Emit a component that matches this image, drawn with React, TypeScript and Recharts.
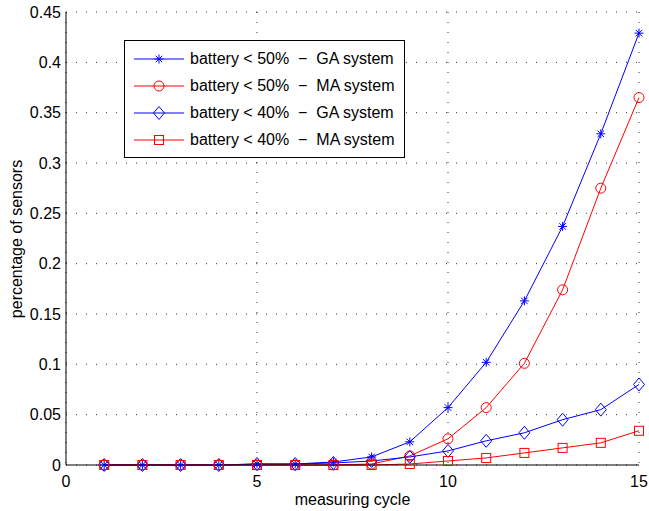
import React from 'react';
import { LineChart, Line, XAxis, YAxis, CartesianGrid, Legend } from 'recharts';

// measuring cycles on the x axis
const cycles = [1, 2, 3, 4, 5, 6, 7, 8, 9, 10, 11, 12, 13, 14, 15];

// share of sensors below a battery level, per system
const gaBelow50 = [0, 0, 0, 0, 0.001, 0.001, 0.003, 0.008, 0.023, 0.057, 0.102, 0.163, 0.237, 0.329, 0.429];
const maBelow50 = [0, 0, 0, 0, 0, 0, 0, 0.001, 0.009, 0.026, 0.057, 0.101, 0.174, 0.275, 0.365];
const gaBelow40 = [0, 0, 0, 0, 0.001, 0.001, 0.002, 0.004, 0.008, 0.014, 0.024, 0.032, 0.045, 0.055, 0.08];
const maBelow40 = [0, 0, 0, 0, 0, 0, 0, 0, 0.001, 0.004, 0.007, 0.012, 0.017, 0.022, 0.034];

const xTicks = [0, 5, 10, 15];
const yTicks = [0, 0.05, 0.1, 0.15, 0.2, 0.25, 0.3, 0.35, 0.4, 0.45];

const seriesLabels = [
  'battery < 50%  \u2212  GA system',
  'battery < 50%  \u2212  MA system',
  'battery < 40%  \u2212  GA system',
  'battery < 40%  \u2212  MA system',
];

const BLUE = '#0000ff';
const RED = '#ff0000';
const FONT = '"Liberation Sans", Arial, Helvetica, sans-serif';

const data = cycles.map((c, i) => ({
  cycle: c,
  ga50: gaBelow50[i],
  ma50: maBelow50[i],
  ga40: gaBelow40[i],
  ma40: maBelow40[i],
}));

type MarkerProps = { cx?: number; cy?: number; color: string };

const Star = ({ cx = 0, cy = 0, color }: MarkerProps) => {
  const r = 4.5;
  const d = r * 0.72;
  return (
    <g stroke={color} strokeWidth={1}>
      <line x1={cx - r} y1={cy} x2={cx + r} y2={cy} />
      <line x1={cx} y1={cy - r} x2={cx} y2={cy + r} />
      <line x1={cx - d} y1={cy - d} x2={cx + d} y2={cy + d} />
      <line x1={cx - d} y1={cy + d} x2={cx + d} y2={cy - d} />
    </g>
  );
};

const Circle = ({ cx = 0, cy = 0, color }: MarkerProps) => (
  <circle cx={cx} cy={cy} r={5} fill="none" stroke={color} strokeWidth={1} />
);

const Diamond = ({ cx = 0, cy = 0, color }: MarkerProps) => (
  <polygon
    points={`${cx},${cy - 6.5} ${cx + 5.5},${cy} ${cx},${cy + 6.5} ${cx - 5.5},${cy}`}
    fill="none"
    stroke={color}
    strokeWidth={1}
  />
);

const Square = ({ cx = 0, cy = 0, color }: MarkerProps) => (
  <rect x={cx - 4.5} y={cy - 4.5} width={9} height={9} fill="none" stroke={color} strokeWidth={1} />
);

const markers = [Star, Circle, Diamond, Square];
const colors = [BLUE, RED, BLUE, RED];
const keys = ['ga50', 'ma50', 'ga40', 'ma40'];

const dotFor = (idx: number) => (props: any) => {
  const M = markers[idx];
  return <M key={`${keys[idx]}-${props.index}`} cx={props.cx} cy={props.cy} color={colors[idx]} />;
};

const LegendBox = () => (
  <div
    style={{
      border: '1px solid #000',
      background: '#fff',
      padding: '4px 9px 4px 9px',
      fontFamily: FONT,
      fontSize: 16,
      color: '#000',
    }}
  >
    {seriesLabels.map((label, i) => {
      const M = markers[i];
      return (
        <div key={label} style={{ display: 'flex', alignItems: 'center', height: 27 }}>
          <svg width={50} height={16} style={{ marginRight: 6 }}>
            <line x1={0} y1={8} x2={50} y2={8} stroke={colors[i]} strokeWidth={1} />
            <M cx={25} cy={8} color={colors[i]} />
          </svg>
          <span style={{ whiteSpace: 'pre' }}>{label}</span>
        </div>
      );
    })}
  </div>
);

const fmt = (v: number) => String(Number(v.toFixed(2)));
const blank = () => '';

export default function App() {
  return (
    <div style={{ position: 'absolute', left: 0, top: 0, background: '#fff' }}>
      <LineChart width={649} height={511} data={data} margin={{ top: 12, right: 10, left: 0, bottom: 0 }}>
        <CartesianGrid
          horizontalValues={yTicks}
          verticalValues={xTicks}
          stroke="#000"
          strokeDasharray="1 9"
          strokeOpacity={0.8}
        />
        <XAxis
          dataKey="cycle"
          type="number"
          domain={[0, 15]}
          ticks={xTicks}
          height={46}
          axisLine={{ stroke: '#000' }}
          tickLine={false}
          tickSize={4}
          tickMargin={7}
          tick={{ fill: '#000', fontSize: 16, fontFamily: FONT }}
          label={{ value: 'measuring cycle', position: 'insideBottom', offset: 6, fill: '#000', fontSize: 16, fontFamily: FONT }}
        />
        <XAxis
          xAxisId="bottomTicks"
          dataKey="cycle"
          type="number"
          domain={[0, 15]}
          ticks={xTicks}
          mirror
          height={0}
          axisLine={false}
          tickLine={{ stroke: '#000' }}
          tickSize={5}
          tickFormatter={blank}
        />
        <XAxis
          xAxisId="top"
          orientation="top"
          dataKey="cycle"
          type="number"
          domain={[0, 15]}
          ticks={xTicks}
          mirror
          height={0}
          axisLine={{ stroke: '#000' }}
          tickLine={{ stroke: '#000' }}
          tickSize={5}
          tickFormatter={blank}
        />
        <YAxis
          type="number"
          domain={[0, 0.45]}
          ticks={yTicks}
          width={66}
          axisLine={{ stroke: '#000' }}
          tickLine={false}
          tickSize={2}
          tickMargin={3}
          tickFormatter={fmt}
          tick={{ fill: '#000', fontSize: 16, fontFamily: FONT }}
          label={{
            content: () => (
              <text
                x={22}
                y={239}
                transform="rotate(-90 22 239)"
                textAnchor="middle"
                fill="#000"
                fontSize={16}
                fontFamily={FONT}
              >
                percentage of sensors
              </text>
            ),
          }}
        />
        <YAxis
          yAxisId="leftTicks"
          type="number"
          domain={[0, 0.45]}
          ticks={yTicks}
          mirror
          width={0}
          axisLine={false}
          tickLine={{ stroke: '#000' }}
          tickSize={5}
          tickFormatter={blank}
        />
        <YAxis
          yAxisId="right"
          orientation="right"
          type="number"
          domain={[0, 0.45]}
          ticks={yTicks}
          mirror
          width={0}
          axisLine={{ stroke: '#000' }}
          tickLine={{ stroke: '#000' }}
          tickSize={5}
          tickFormatter={blank}
        />
        <Legend
          layout="vertical"
          align="center"
          verticalAlign="middle"
          wrapperStyle={{ position: 'absolute', left: 124, top: 40, width: 'auto' }}
          content={() => <LegendBox />}
        />
        {keys.map((k, i) => (
          <Line
            key={k}
            type="linear"
            dataKey={k}
            stroke={colors[i]}
            strokeWidth={1}
            dot={dotFor(i)}
            activeDot={false}
            isAnimationActive={false}
          />
        ))}
      </LineChart>
    </div>
  );
}
